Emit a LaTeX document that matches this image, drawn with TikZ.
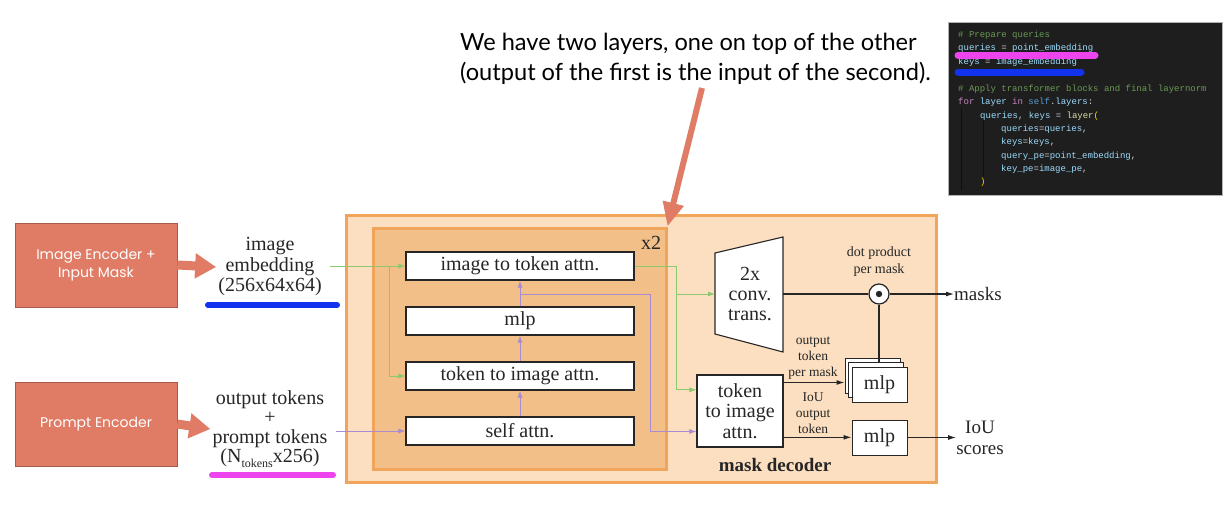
\documentclass[tikz,border=0pt]{standalone}
\usepackage{fontspec}
\setmainfont{Liberation Serif}
\newfontfamily\annfont{Poppins}
\newfontfamily\notefont{Lato}
\setmonofont{Liberation Mono}
\usetikzlibrary{arrows.meta,calc}
\definecolor{salmon}{HTML}{E07B65}
\definecolor{salmonD}{HTML}{A85A48}
\definecolor{outerF}{HTML}{FBDFC0}
\definecolor{outerD}{HTML}{F0A55A}
\definecolor{innerF}{HTML}{F2BF88}
\definecolor{grn}{HTML}{8CC86E}
\definecolor{pur}{HTML}{A98BD0}
\definecolor{hlB}{HTML}{1133EE}
\definecolor{hlM}{HTML}{EE44EE}
\definecolor{codeBG}{HTML}{1E1E1E}
\definecolor{cVar}{HTML}{9CDCFE}
\definecolor{cOp}{HTML}{D4D4D4}
\definecolor{cCm}{HTML}{6A9955}
\definecolor{cKw}{HTML}{C586C0}
\definecolor{cSelf}{HTML}{569CD6}
\definecolor{cFn}{HTML}{DCDCAA}
\definecolor{cPar}{HTML}{FFD700}
\definecolor{ink}{HTML}{262626}
\newcommand\kVar[1]{\textcolor{cVar}{#1}}
\newcommand\kOp[1]{\textcolor{cOp}{#1}}
\newcommand\kCm[1]{\textcolor{cCm}{#1}}
\newcommand\kKw[1]{\textcolor{cKw}{#1}}
\newcommand\kSelf[1]{\textcolor{cSelf}{#1}}
\newcommand\kFn[1]{\textcolor{cFn}{#1}}
\newcommand\kPar[1]{\textcolor{cPar}{#1}}
\begin{document}
\begin{tikzpicture}[x=1pt,y=-1pt,
  encbox/.style={draw=salmonD, fill=salmon, line width=0.6pt, minimum width=162pt, minimum height=84pt,
    text=white, align=center, font=\annfont\fontsize{14}{18}\selectfont},
  serif20/.style={align=center, text=ink, font=\fontsize{20}{20.5}\selectfont, inner sep=2pt},
  blk/.style={draw=ink, fill=white, line width=1.1pt, minimum width=228pt, minimum height=28pt,
    inner sep=0pt, text=ink, font=\fontsize{20}{21}\selectfont},
  small/.style={align=center, text=ink, font=\fontsize{13.5}{16}\selectfont, inner sep=0pt},
  notetext/.style={anchor=base west, inner sep=0pt, text=black, font=\notefont\fontsize{23.6}{30}\selectfont},
  fat/.style={draw=salmon, line width=9pt, -{Triangle[length=21pt,width=24pt]}},
  fatthin/.style={draw=salmon, line width=6pt, -{Triangle[length=24pt,width=20pt]}},
  gline/.style={draw=grn, line width=0.9pt, -{Latex[length=7pt,width=5pt]}},
  pline/.style={draw=pur, line width=0.9pt, -{Latex[length=7pt,width=5pt]}},
  bline/.style={draw=ink, line width=1.1pt},
  barr/.style={bline, -{Latex[length=8pt,width=5pt]}},
  codeln/.style={anchor=base west, inner sep=0pt, font=\ttfamily\fontsize{9}{10}\selectfont, text=cOp},
  hl/.style={line width=7pt, line cap=round}
]
\useasboundingbox (0,0) rectangle (1224,506);
\fill[white] (0,0) rectangle (1224,506);

% annotation
\node[notetext] (ann1) at (460,50) {We have two layers, one on top of the other};
\node[notetext] (ann2) at (460,80) {(output of the first is the input of the second).};

% code snippet
\node[draw=black!30, fill=codeBG, line width=0.6pt, minimum width=274pt, minimum height=173pt, inner sep=0pt] (code) at (1085,108.5) {};
\draw[black!55!codeBG, line width=0.6pt] (961,108) -- (961,190);
\draw[black!55!codeBG, line width=0.6pt] (983,120) -- (983,176);
\node[codeln] (c1) at (958,37) {\kCm{\# Prepare queries}};
\node[codeln] (c2) at (958,50) {\kVar{queries} \kOp{=} \kVar{point\_embedding}};
\node[codeln] (c3) at (958,64) {\kVar{keys} \kOp{=} \kVar{image\_embedding}};
\node[codeln] (c5) at (958,91) {\kCm{\# Apply transformer blocks and final layernorm}};
\node[codeln] (c6) at (958,104) {\kKw{for} \kVar{layer} \kKw{in} \kSelf{self}\kOp{.}\kVar{layers}\kOp{:}};
\node[codeln] (c7) at (980,118) {\kVar{queries}\kOp{,} \kVar{keys} \kOp{=} \kFn{layer}\kPar{(}};
\node[codeln] (c8) at (1001,131) {\kVar{queries}\kOp{=}\kVar{queries}\kOp{,}};
\node[codeln] (c9) at (1001,144) {\kVar{keys}\kOp{=}\kVar{keys}\kOp{,}};
\node[codeln] (c10) at (1001,158) {\kVar{query\_pe}\kOp{=}\kVar{point\_embedding}\kOp{,}};
\node[codeln] (c11) at (1001,171) {\kVar{key\_pe}\kOp{=}\kVar{image\_pe}\kOp{,}};
\node[codeln] (c12) at (980,184) {\kPar{)}};
\draw[hl, hlM] (958,55) -- (1095,55);
\draw[hl, hlB] (958,72) -- (1081,72);

% encoders
\node[encbox] (enc1) at (96,265) {Image Encoder +\\Input Mask};
\node[encbox] (enc2) at (96,424) {Prompt Encoder};

% input texts
\node[serif20] (emb) at (270,267) {image\\embedding\\(256x64x64)};
\node[serif20, font=\fontsize{20}{19.3}\selectfont] (tok) at (270,429)
  {output tokens\\+\\prompt tokens\\(N\raisebox{-0.55ex}{\fontsize{12}{12}\selectfont tokens}x256)};
\draw[hl, hlB, line width=6pt] (208,305) -- (337,305);
\draw[hl, hlM, line width=6pt] (212,475) -- (333,475);

\draw[fat] (enc1.east) -- (emb.west);
\draw[fat] (enc2.east) -- (tok.west);

% mask decoder
\node[draw=outerD, fill=outerF, line width=3pt, minimum width=590pt, minimum height=267pt, inner sep=0pt] (dec) at (641,349) {};
\node[draw=outerD, fill=innerF, line width=3pt, minimum width=293pt, minimum height=241pt, inner sep=0pt] (inner) at (519.5,348.5) {};
\node[text=ink, font=\fontsize{20}{21}\selectfont, inner sep=0pt] (x2) at (651,243) {x2};

\node[blk] (b1) at (520,266) {image to token attn.};
\node[blk] (b2) at (520,321) {mlp};
\node[blk] (b3) at (520,376) {token to image attn.};
\node[blk] (b4) at (520,431) {self attn.};

% conv trans
\coordinate (cvTL) at (715,253);
\coordinate (cvTR) at (783,237);
\coordinate (cvBR) at (783,352);
\coordinate (cvBL) at (715,334);
\coordinate (cvL) at (715,294);
\coordinate (cvR) at (783,294);
\draw[bline, fill=white] (cvTL) -- (cvTR) -- (cvBR) -- (cvBL) -- cycle;
\node[serif20, font=\fontsize{20}{20}\selectfont, inner sep=0pt] (conv) at (750,294) {2x\\conv.\\trans.};

% token to image attn (second)
\node[draw=ink, fill=white, line width=1.1pt, minimum width=86pt, minimum height=72pt, inner sep=0pt,
  align=center, text=ink, font=\fontsize{20}{20.5}\selectfont] (tti) at (740,411) {token\\to image\\attn.};

% dot product
\node[draw=ink, fill=white, line width=1.2pt, circle, minimum size=20pt, inner sep=0pt] (dot) at (879,294) {};
\fill[ink] (dot.center) circle (3.2pt);
\node[small, font=\fontsize{14}{17}\selectfont] (dplab) at (879,262) {dot product\\per mask};

% mlp stack
\node[draw=ink, fill=white, line width=1pt, minimum width=55pt, minimum height=35pt] (mlpB2) at (872.5,375.5) {};
\node[draw=ink, fill=white, line width=1pt, minimum width=55pt, minimum height=35pt] (mlpB1) at (876,380) {};
\node[draw=ink, fill=white, line width=1pt, minimum width=55pt, minimum height=35pt, inner sep=0pt,
  text=ink, font=\fontsize{20}{21}\selectfont] (mlp1) at (879.5,384.5) {mlp};
\node[draw=ink, fill=white, line width=1pt, minimum width=55pt, minimum height=35pt, inner sep=0pt,
  text=ink, font=\fontsize{20}{21}\selectfont] (mlp2) at (879.5,437.5) {mlp};

\node[small] (otlab) at (813,358) {output\\token\\per mask};
\node[small] (ioulab) at (813,413) {IoU\\output\\token};

% outputs
\node[anchor=west, text=ink, font=\fontsize{19}{20}\selectfont, inner sep=0pt] (masks) at (954,294) {masks};
\node[align=center, text=ink, font=\fontsize{19}{21}\selectfont, inner sep=0pt] (iou) at (980,437.5) {IoU\\scores};
\node[text=ink, font=\bfseries\fontsize{19}{20}\selectfont, inner sep=0pt] (mdlab) at (775,465) {mask decoder};

% green connectors
\draw[gline, shorten <=6pt] (emb.east |- b1.west) -- (b1.west);
\draw[gline] (b1.west) ++(-16,0) |- (b3.west);
\coordinate (gx) at (676,266);
\coordinate (ttiG) at ($(tti.north west)!0.21!(tti.south west)$);
\draw[gline] (b1.east) -- (gx) |- (ttiG);
\draw[gline] (gx |- cvL) -- (cvL);

% purple connectors
\draw[pline, shorten <=6pt] (tok.east |- b4.west) -- (b4.west);
\draw[pline] (b4.north) -- (b3.south);
\draw[pline] (b3.north) -- (b2.south);
\draw[pline] (b2.north) -- (b1.south);
\coordinate (pj) at (520,294);
\coordinate (px) at (650,294);
\coordinate (ttiP) at ($(tti.north west)!0.78!(tti.south west)$);
\draw[pline] (pj) -- (px) |- (ttiP);

% black connectors
\draw[bline] (cvR) -- (dot.west);
\draw[barr] (dot.east) -- (masks.west);
\draw[bline] (dot.south) -- (dot.south |- mlpB1.north);
\coordinate (o1) at ($(tti.north east)!0.11!(tti.south east)$);
\coordinate (o2) at ($(tti.north east)!0.86!(tti.south east)$);
\draw[barr] (o1) -- (o1 -| mlpB2.west);
\draw[barr] (o2) -- (o2 -| mlp2.west);
\draw[barr] (mlp2.east) -- (iou.west);

% annotation arrow
\coordinate (annTail) at (702,88);
\draw[fatthin] (annTail) -- (inner.north east);
\end{tikzpicture}
\end{document}
